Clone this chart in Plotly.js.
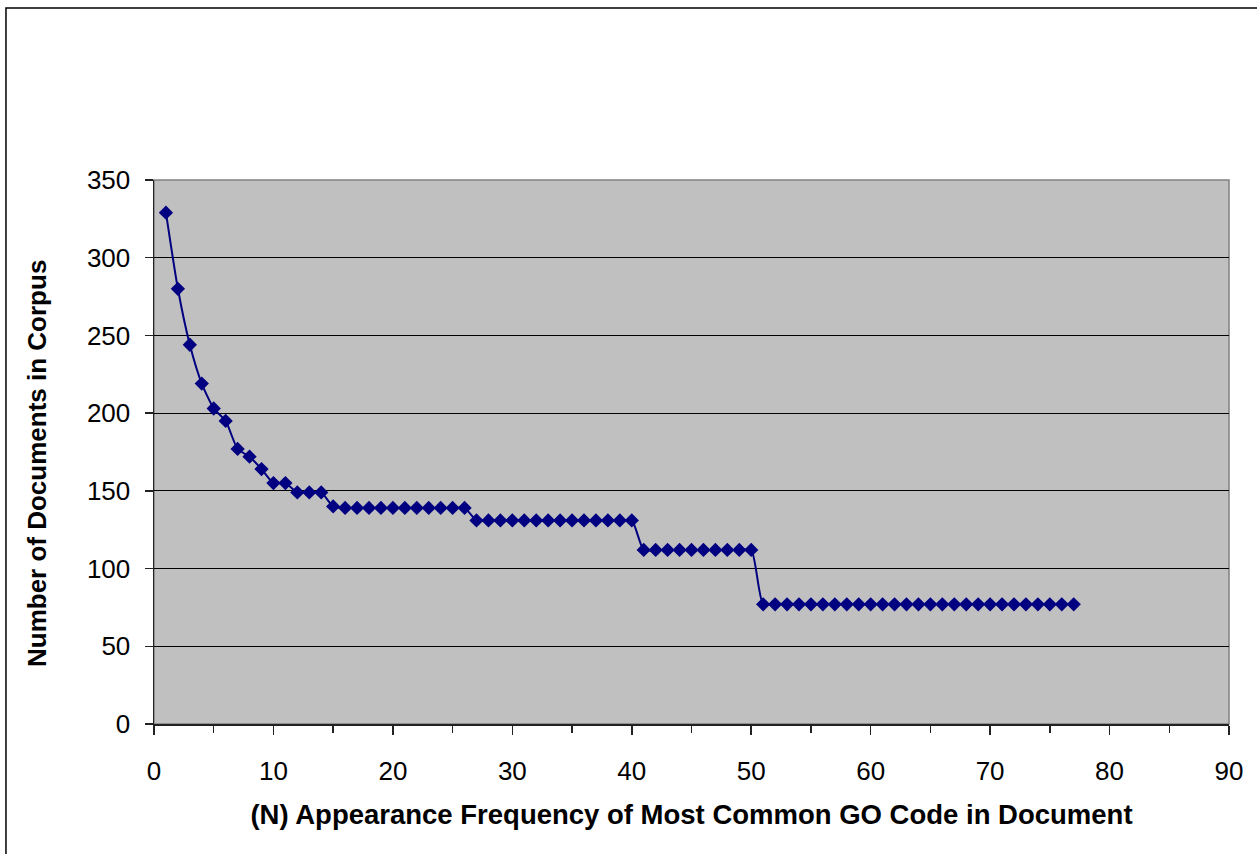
<!DOCTYPE html>
<html>
<head>
<meta charset="utf-8">
<script src="https://cdn.plot.ly/plotly-3.0.1.min.js"></script>
<style>
html,body{margin:0;padding:0;background:#fff;}
#chart{width:1257px;height:854px;}
</style>
</head>
<body>
<div id="chart"></div>
<script>
const nValues = [];
for (let i = 1; i <= 77; i++) nValues.push(i);
const docCounts = [
  329, 280, 244, 219, 203, 195, 177, 172, 164, 155,
  155, 149, 149, 149, 140, 139, 139, 139, 139, 139,
  139, 139, 139, 139, 139, 139, 131, 131, 131, 131,
  131, 131, 131, 131, 131, 131, 131, 131, 131, 131,
  112, 112, 112, 112, 112, 112, 112, 112, 112, 112,
  77, 77, 77, 77, 77, 77, 77, 77, 77, 77,
  77, 77, 77, 77, 77, 77, 77, 77, 77, 77,
  77, 77, 77, 77, 77, 77, 77
];
const xTitle = "(N) Appearance Frequency of Most Common GO Code in Document";
const yTitle = "Number of Documents in Corpus";

const trace = {
  x: nValues,
  y: docCounts,
  type: "scatter",
  mode: "lines+markers",
  line: {color: "#000080", width: 2, shape: "spline", smoothing: 0.6},
  marker: {symbol: "diamond", size: 11, color: "#000080"},
  hoverinfo: "x+y"
};

const font = {family: "Liberation Sans, Arial, sans-serif", color: "#000"};

const layout = {
  width: 1257, height: 854,
  margin: {l: 154, r: 28, t: 180, b: 130, pad: 0},
  paper_bgcolor: "#fff",
  plot_bgcolor: "#c0c0c0",
  showlegend: false,
  font: Object.assign({size: 26}, font),
  xaxis: {
    range: [0, 90], dtick: 10, tick0: 0,
    showgrid: false, zeroline: false,
    showline: true, linecolor: "#222", linewidth: 1.5,
    ticks: "outside", ticklen: 9, tickwidth: 1.5, tickcolor: "#222",
    minor: {dtick: 5, ticks: "outside", ticklen: 7, tickwidth: 1.5, tickcolor: "#222", showgrid: false},
    ticklabelstandoff: 14,
    tickfont: Object.assign({size: 26}, font),
    title: {text: xTitle, font: Object.assign({size: 27.5, weight: "bold"}, font), standoff: 20}
  },
  yaxis: {
    range: [0, 350], dtick: 50, tick0: 0,
    showgrid: true, gridcolor: "#000", gridwidth: 1,
    zeroline: false,
    showline: true, linecolor: "#222", linewidth: 1.5,
    ticks: "outside", ticklen: 8, tickwidth: 1.5, tickcolor: "#222",
    ticklabelstandoff: 9,
    tickfont: Object.assign({size: 26}, font)
  },
  annotations: [
    {text: yTitle, xref: "paper", yref: "paper", x: -0.1088, y: 0.478,
     xanchor: "center", yanchor: "middle", textangle: -90, showarrow: false,
     font: Object.assign({size: 26, weight: "bold"}, font)}
  ],
  shapes: [
    {type: "rect", xref: "paper", yref: "paper", x0: 0, x1: 1, y0: 0, y1: 1,
     line: {color: "#808080", width: 1.5}, fillcolor: "rgba(0,0,0,0)", layer: "below"},
    {type: "rect", xref: "paper", yref: "paper", x0: -0.1377, x1: 1.2, y0: -0.5, y1: 1.316,
     line: {color: "#000", width: 1.5}, fillcolor: "rgba(0,0,0,0)", layer: "above"}
  ]
};

Plotly.newPlot("chart", [trace], layout, {displayModeBar: false, staticPlot: true});
</script>
</body>
</html>
